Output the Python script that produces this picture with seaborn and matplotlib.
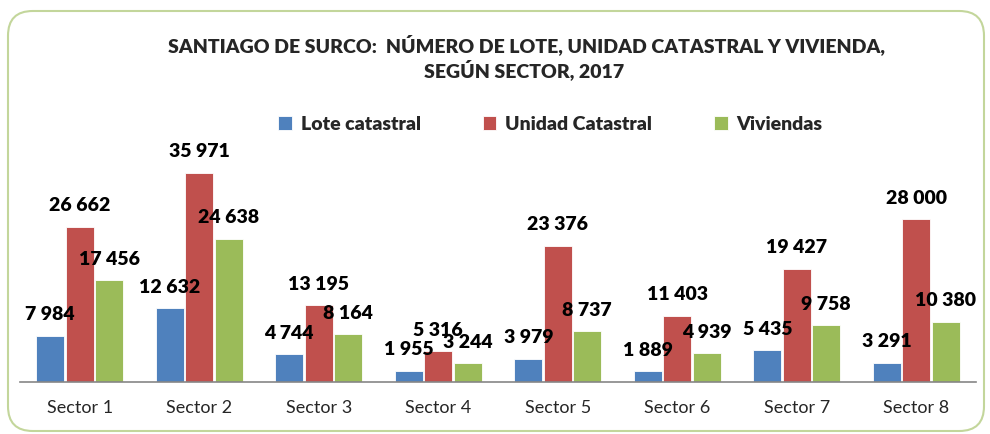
import pandas as pd
import numpy as np
import matplotlib
matplotlib.use("Agg")
import matplotlib.pyplot as plt
import seaborn as sb
from matplotlib.patches import FancyBboxPatch

sectors = ["Sector 1", "Sector 2", "Sector 3", "Sector 4",
           "Sector 5", "Sector 6", "Sector 7", "Sector 8"]
lote = [7984, 12632, 4744, 1955, 3979, 1889, 5435, 3291]
unidad = [26662, 35971, 13195, 5316, 23376, 11403, 19427, 28000]
viviendas = [17456, 24638, 8164, 3244, 8737, 4939, 9758, 10380]
series = ["Lote catastral", "Unidad Catastral", "Viviendas"]
colors = ["#4F81BD", "#C0504D", "#9BBB59"]

df = pd.DataFrame({"sector": sectors * 3,
                   "serie": np.repeat(series, len(sectors)),
                   "valor": lote + unidad + viviendas})

sb.set_style("white")
plt.rcParams["font.family"] = ["Lato", "DejaVu Sans"]

fig = plt.figure(figsize=(9.9, 4.34), dpi=100)
ax = fig.add_axes([20/990, 1-382/434, 956/990, 232/434])

sb.barplot(data=df, x="sector", y="valor", hue="serie", palette=colors,
           saturation=1, width=0.74, gap=0.06, edgecolor="white",
           linewidth=0.6, ax=ax)

# etiquetas de datos con espacio como separador de miles
for cont in ax.containers:
    labs = [f"{int(b.get_height()):,}".replace(",", " ") for b in cont]
    ax.bar_label(cont, labels=labs, padding=9, fontsize=14,
                 fontweight="heavy", color="black", clip_on=False)

ax.set_xlim(-0.5, 7.5)
ax.set_ylim(0, 39860)
ax.set_xlabel("")
ax.set_ylabel("")
ax.set_yticks([])
for s in ["top", "right", "left"]:
    ax.spines[s].set_visible(False)
ax.spines["bottom"].set_color("#868686")
ax.spines["bottom"].set_linewidth(1.2)
ax.set_xticks(np.arange(-0.5, 8, 1), minor=True)
ax.tick_params(axis="x", which="minor", length=5, width=1.2,
               color="#868686", direction="out")
ax.tick_params(axis="x", which="major", length=0, pad=13, labelsize=13)

handles, labels = ax.get_legend_handles_labels()
ax.get_legend().remove()
fig.legend(handles, labels, loc="center", bbox_to_anchor=(0.556, 1-124/434),
           ncol=3, frameon=False, handlelength=0.7, handleheight=0.7,
           handletextpad=0.45, columnspacing=3.2,
           prop={"size": 14, "weight": "heavy"})

fig.text(526/990, 1-45/434, "SANTIAGO DE SURCO:  NÚMERO DE LOTE, UNIDAD CATASTRAL Y VIVIENDA,",
         ha="center", va="center", fontsize=14, fontweight="heavy")
fig.text(524/990, 1-70/434, "SEGÚN SECTOR, 2017",
         ha="center", va="center", fontsize=14, fontweight="heavy")

border = FancyBboxPatch((8/990, 3/434), 976/990, 420/434,
                        boxstyle="round,pad=0,rounding_size=0.025",
                        transform=fig.transFigure, fill=False,
                        edgecolor="#C3D69B", linewidth=1.5, mutation_aspect=990/434)
fig.patches.append(border)

plt.savefig("out.png", dpi=100)
